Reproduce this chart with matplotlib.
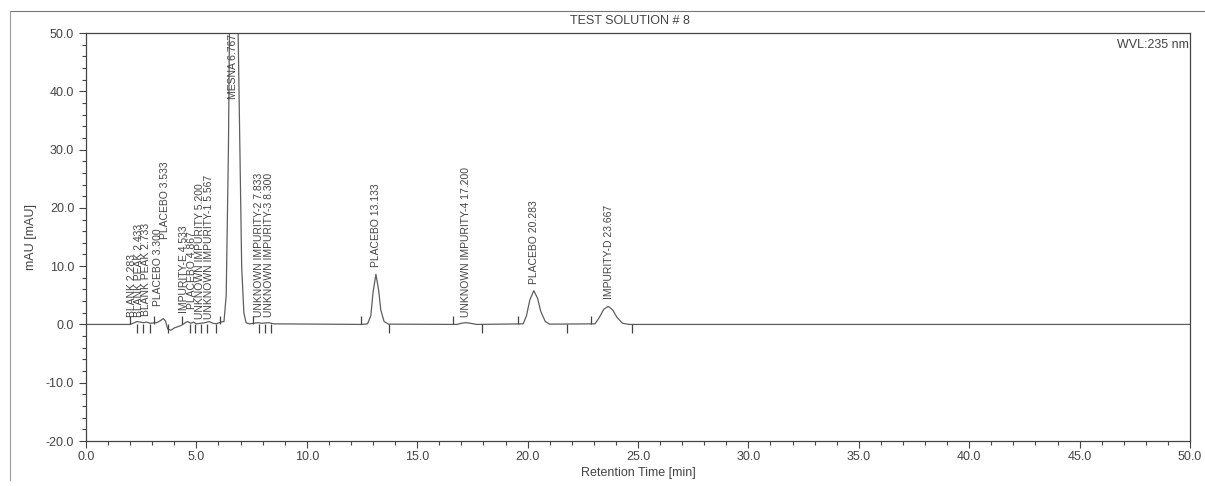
import matplotlib

matplotlib.use("Agg")
import matplotlib.pyplot as plt
from matplotlib.lines import Line2D
from matplotlib.ticker import MultipleLocator

plt.rcParams.update({"font.family": ["Liberation Sans", "DejaVu Sans"], "font.size": 9})
INK, TRACE = "#444444", "#5e5e5e"

# chromatogram trace (time [min], signal [mAU])
trace_t = [0.0, 2.0, 2.2, 2.3, 2.45, 2.6, 2.75, 2.9, 3.2, 3.35, 3.5, 3.6, 3.7,
           3.85, 4.0, 4.3, 4.5, 4.6, 4.75, 4.87, 5.0, 5.2, 5.4, 5.57, 5.75,
           5.9, 6.1, 6.25, 6.35, 6.45, 6.52, 6.7, 6.85, 6.95, 7.05, 7.15, 7.25,
           7.4, 7.8, 7.95, 8.3, 8.5, 12.5, 12.75, 12.9, 13.0, 13.13, 13.25,
           13.35, 13.5, 13.7, 16.8, 17.0, 17.2, 17.4, 17.7, 19.8, 19.95, 20.1,
           20.28, 20.45, 20.6, 20.8, 21.0, 23.05, 23.25, 23.45, 23.65, 23.85,
           24.05, 24.3, 24.6, 50.0]
trace_mau = [0.0, 0.0, 0.3, 0.5, 0.4, 0.3, 0.4, 0.2, 0.3, 0.6, 1.0, 0.6, -0.8,
             -1.0, -0.6, -0.2, 0.3, 0.5, 0.2, 0.4, 0.1, 0.2, 0.3, 0.5, 0.2,
             0.1, 0.4, 0.5, 5.0, 30.0, 60.0, 75.0, 60.0, 35.0, 10.0, 2.0, 0.3,
             0.1, 0.3, 0.2, 0.3, 0.1, 0.0, 0.1, 1.5, 5.5, 8.6, 6.0,
             2.5, 0.5, 0.05, 0.0, 0.2, 0.3, 0.2, 0.0, 0.1, 1.5, 4.2,
             5.8, 4.5, 2.2, 0.5, 0.05, 0.1, 1.2, 2.6, 3.1, 2.5,
             1.2, 0.2, 0.0, 0.0]

# peak table labels
peak_names = ["BLANK 2.283", "BLANK PEAK 2.433", "BLANK PEAK 2.733",
              "PLACEBO 3.300", "PLACEBO 3.533", "IMPURITY-E 4.533",
              "PLACEBO 4.867", "UNKNOWN IMPURITY 5.200",
              "UNKNOWN IMPURITY-1 5.567", "MESNA 6.767",
              "UNKNOWN IMPURITY-2 7.833", "UNKNOWN IMPURITY-3 8.300",
              "PLACEBO 13.133", "UNKNOWN IMPURITY-4 17.200",
              "PLACEBO 20.283", "IMPURITY-D 23.667"]
peak_rt = [2.1, 2.38, 2.73, 3.27, 3.6, 4.45, 4.82, 5.15, 5.58,
           6.68, 7.833, 8.300, 13.133, 17.200, 20.283, 23.667]
label_base = [1.2, 1.2, 1.5, 3.1, 14.6, 2.0, 2.6, 1.0, 1.0, 38.6, 1.2, 1.2,
              9.8, 1.2, 6.9, 4.3]

# integration delimiters
start_marks = [2.0, 3.1, 4.35, 6.07, 7.55, 12.45, 16.6, 19.57, 22.87]
end_marks = [2.3, 2.6, 2.9, 3.7, 4.7, 4.95, 5.2, 5.47, 5.9, 7.85, 8.1, 8.4,
             13.72, 17.93, 21.8, 24.73]

x_ticks = [0, 5, 10, 15, 20, 25, 30, 35, 40, 45, 50]
y_ticks = [-20, -10, 0, 10, 20, 30, 40, 50]

fig = plt.figure(figsize=(12.05, 4.86), dpi=100)
ax = fig.add_axes([86 / 1205, 1 - 441 / 486, (1190 - 86) / 1205, (441 - 33) / 486])

ax.plot(trace_t, trace_mau, color=TRACE, lw=0.9, solid_joinstyle="round")
ax.vlines(start_marks, 0, 1.5, color=INK, lw=0.9)
ax.vlines(end_marks, -1.5, 0, color=INK, lw=0.9)

for name, rt, yb in zip(peak_names, peak_rt, label_base):
    ax.text(rt, yb, name, rotation=90, ha="center", va="bottom",
            fontsize=7.5, color=INK, clip_on=True)

ax.set_xlim(0, 50)
ax.set_ylim(-20, 50)
ax.set_xticks(x_ticks, [f"{v:.1f}" for v in x_ticks])
ax.set_yticks(y_ticks, [f"{v:.1f}" for v in y_ticks])
ax.xaxis.set_minor_locator(MultipleLocator(1))
ax.yaxis.set_minor_locator(MultipleLocator(2))
ax.tick_params(which="both", direction="out", colors=INK, labelcolor=INK,
               labelsize=9, width=0.8)
ax.tick_params(which="major", length=5)
ax.tick_params(which="minor", length=3)
ax.tick_params(axis="x", pad=2)
for s in ax.spines.values():
    s.set_color(INK)
    s.set_linewidth(0.9)

ax.set_xlabel("Retention Time [min]", color=INK, fontsize=9, labelpad=3)
ax.set_ylabel("mAU [mAU]", color=INK, fontsize=9, labelpad=6)
ax.text(0.999, 0.985, "WVL:235 nm", transform=ax.transAxes, ha="right",
        va="top", fontsize=9, color=INK)

# report frame and title band
fig.add_artist(Line2D([10 / 1205, 1], [1 - 11 / 486] * 2, color="#777777", lw=0.8))
fig.add_artist(Line2D([10 / 1205] * 2, [1 - 11 / 486, 1 - 480 / 486],
                      color="#9a9a9a", lw=0.8))
fig.text(630 / 1205, 1 - 21 / 486, "TEST SOLUTION # 8", ha="center",
         va="center", fontsize=9, color=INK)

fig.savefig("out.png")
